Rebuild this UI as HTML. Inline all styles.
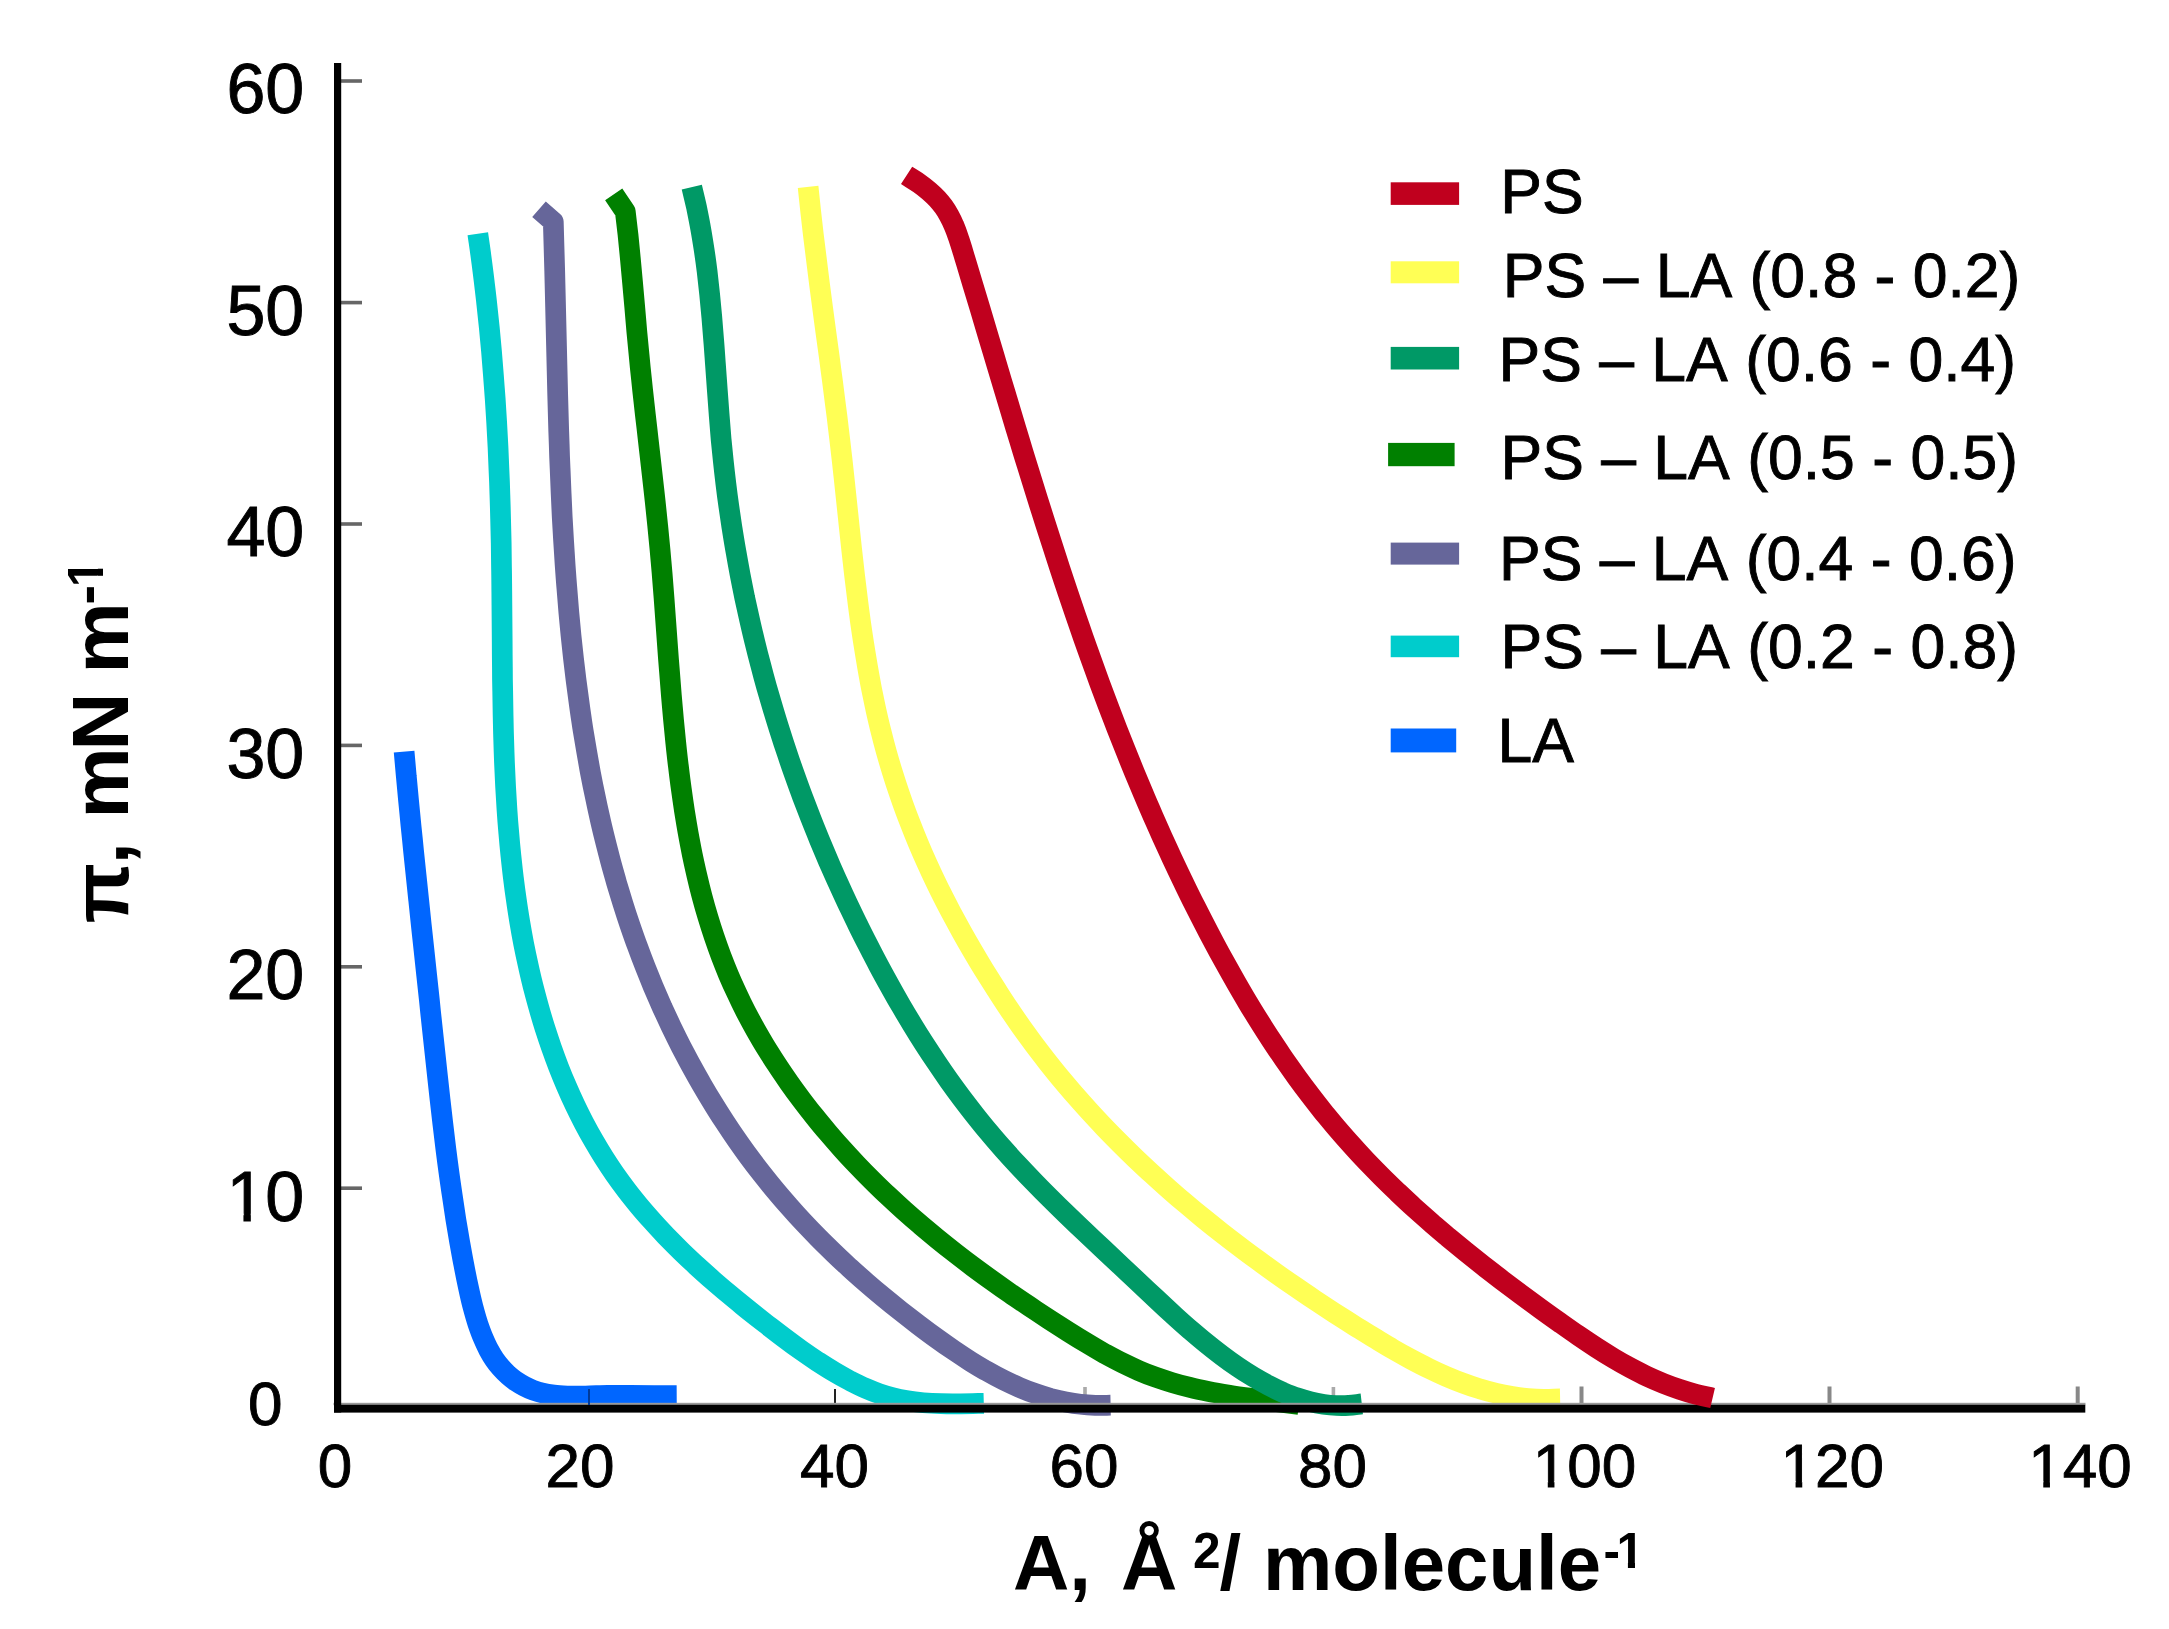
<!DOCTYPE html>
<html lang="en"><head><meta charset="utf-8"><title>Surface pressure - area isotherms</title>
<style>html,body{margin:0;padding:0;background:#fff}body{width:2169px;height:1629px;overflow:hidden}svg{display:block}text{font-family:"Liberation Sans",sans-serif;fill:#000;font-kerning:none}</style>
</head><body>
<svg width="2169" height="1629" viewBox="0 0 2169 1629">
<rect width="2169" height="1629" fill="#fff"/>
<g id="ticks">
<rect x="340" y="79.2" width="22" height="3.6" fill="#666"/>
<rect x="340" y="300.8" width="22" height="3.6" fill="#666"/>
<rect x="340" y="522.2" width="22" height="3.6" fill="#666"/>
<rect x="340" y="743.6" width="22" height="3.6" fill="#666"/>
<rect x="340" y="965.0" width="22" height="3.6" fill="#666"/>
<rect x="340" y="1186.4" width="22" height="3.6" fill="#666"/>
<rect x="588" y="1389" width="2" height="16" fill="#222"/>
<rect x="834" y="1389" width="2" height="16" fill="#222"/>
<rect x="1083.2" y="1387" width="3.6" height="18" fill="#aaa"/>
<rect x="1331.6" y="1387" width="3.6" height="18" fill="#aaa"/>
<rect x="1579.5" y="1386.5" width="4" height="18" fill="#888"/>
<rect x="1827.5" y="1386.5" width="4" height="18" fill="#888"/>
<rect x="2075.7" y="1386.5" width="4" height="18" fill="#888"/>
</g>
<g id="curves" fill="none" stroke-width="20.7" stroke-linecap="butt" stroke-linejoin="round">
<path stroke="#0066FF" d="M404.1,751.6 C404.8,759.8 405.6,768.0 406.3,776.3 C407.1,784.5 407.9,792.7 408.6,801.0 C409.4,809.2 410.2,817.5 411.0,825.7 C411.9,834.0 412.7,842.2 413.5,850.5 C414.4,858.8 415.2,867.1 416.1,875.3 C416.9,883.6 417.8,891.9 418.7,900.2 C419.5,908.6 420.4,916.9 421.3,925.2 C422.2,933.5 423.1,941.9 424.0,950.2 C424.9,958.5 425.8,966.9 426.7,975.3 C427.6,983.6 428.5,992.0 429.4,1000.3 C430.2,1008.7 431.1,1017.0 432.0,1025.4 C432.9,1033.7 433.8,1042.1 434.7,1050.4 C435.6,1058.7 436.5,1067.0 437.4,1075.3 C438.3,1083.5 439.2,1091.7 440.1,1099.9 C441.0,1108.0 441.9,1116.1 442.9,1124.3 C443.8,1132.3 444.8,1140.3 445.8,1148.4 C446.8,1156.3 447.8,1164.3 448.9,1172.2 C450.0,1180.1 451.1,1188.0 452.3,1195.8 C453.4,1203.6 454.6,1211.4 455.8,1219.2 C457.1,1226.9 458.4,1234.5 459.7,1242.2 C461.1,1249.8 462.4,1257.5 463.9,1265.0 C465.3,1272.5 466.8,1279.9 468.4,1287.3 C469.8,1293.8 471.2,1300.3 472.9,1306.7 C474.4,1312.3 475.9,1317.8 477.7,1323.3 C479.4,1328.2 481.1,1333.1 483.1,1337.8 C484.9,1342.0 486.7,1346.1 488.8,1350.0 C490.6,1353.3 492.4,1356.5 494.5,1359.5 C496.5,1362.4 498.6,1365.1 500.9,1367.7 C503.2,1370.3 505.6,1372.7 508.1,1375.0 C510.6,1377.2 513.2,1379.3 515.9,1381.2 C518.6,1383.0 521.4,1384.7 524.2,1386.2 C527.0,1387.7 529.9,1389.0 532.9,1390.1 C536.0,1391.2 539.2,1392.2 542.5,1393.0 C546.2,1393.9 550.0,1394.5 553.8,1395.0 C558.3,1395.6 562.9,1395.8 567.4,1396.0 C573.4,1396.3 579.3,1396.0 585.2,1396.0 C592.6,1395.9 600.1,1395.5 607.5,1395.4 C615.0,1395.3 622.5,1395.3 630.0,1395.4 C638.2,1395.4 646.3,1395.6 654.4,1395.6 C661.8,1395.6 669.3,1395.5 676.7,1395.5"/>
<path stroke="#00CCCC" d="M477.8,233.8 C478.9,241.6 480.1,249.4 481.1,257.2 C482.2,265.0 483.1,272.8 484.1,280.7 C485.0,288.5 486.0,296.3 486.8,304.1 C487.7,312.0 488.5,319.9 489.3,327.7 C490.0,335.6 490.8,343.5 491.5,351.4 C492.2,359.3 492.8,367.2 493.4,375.1 C494.0,383.0 494.6,391.0 495.2,398.9 C495.7,406.9 496.2,414.8 496.7,422.8 C497.1,430.8 497.6,438.8 498.0,446.7 C498.4,454.8 498.7,462.8 499.0,470.8 C499.4,478.8 499.7,486.8 499.9,494.8 C500.2,502.9 500.4,510.9 500.6,519.0 C500.8,527.1 501.0,535.1 501.2,543.2 C501.3,551.3 501.4,559.4 501.5,567.6 C501.7,575.7 501.7,583.9 501.8,592.1 C501.9,600.4 501.9,608.7 502.0,617.0 C502.1,625.3 502.1,633.7 502.2,642.0 C502.2,650.3 502.3,658.5 502.4,666.8 C502.4,675.0 502.5,683.1 502.7,691.3 C502.8,699.4 502.9,707.5 503.1,715.5 C503.3,723.5 503.4,731.5 503.7,739.5 C503.9,747.4 504.2,755.4 504.5,763.3 C504.8,771.1 505.2,778.9 505.6,786.8 C506.0,794.5 506.5,802.2 507.0,810.0 C507.5,817.7 508.1,825.3 508.8,833.0 C509.4,840.5 510.1,848.1 510.9,855.7 C511.7,863.2 512.5,870.7 513.4,878.1 C514.3,885.6 515.3,893.0 516.4,900.3 C517.4,907.7 518.6,915.0 519.8,922.3 C521.0,929.5 522.3,936.7 523.7,943.9 C525.1,951.0 526.6,958.1 528.2,965.2 C529.7,972.3 531.4,979.3 533.1,986.3 C534.9,993.2 536.7,1000.2 538.7,1007.1 C540.6,1013.9 542.6,1020.7 544.7,1027.4 C546.9,1034.2 549.1,1040.8 551.4,1047.5 C553.7,1054.0 556.1,1060.6 558.6,1067.1 C561.1,1073.5 563.7,1079.9 566.5,1086.2 C569.2,1092.5 572.0,1098.7 574.9,1104.9 C577.8,1111.0 580.8,1117.0 583.9,1123.0 C587.0,1128.9 590.2,1134.8 593.6,1140.6 C596.9,1146.3 600.3,1152.0 603.8,1157.6 C607.3,1163.1 610.9,1168.6 614.7,1174.0 C618.4,1179.3 622.3,1184.6 626.2,1189.8 C630.2,1195.1 634.4,1200.3 638.6,1205.4 C642.9,1210.6 647.4,1215.7 651.9,1220.7 C656.5,1225.9 661.2,1230.9 665.9,1235.9 C670.8,1240.9 675.8,1245.9 680.8,1250.8 C685.9,1255.8 691.2,1260.7 696.4,1265.6 C701.8,1270.5 707.2,1275.4 712.7,1280.2 C718.3,1285.1 724.0,1289.9 729.7,1294.7 C735.5,1299.6 741.4,1304.3 747.3,1309.1 C753.4,1313.9 759.4,1318.7 765.5,1323.5 C771.6,1328.2 777.7,1333.0 783.9,1337.6 C789.6,1341.9 795.4,1346.2 801.3,1350.4 C806.8,1354.3 812.4,1358.1 818.0,1361.8 C823.4,1365.3 828.8,1368.8 834.4,1372.0 C839.6,1375.1 845.0,1378.1 850.4,1381.0 C855.4,1383.5 860.5,1386.0 865.6,1388.3 C870.2,1390.3 874.8,1392.2 879.5,1393.8 C884.0,1395.3 888.4,1396.6 893.0,1397.8 C897.8,1399.0 902.6,1399.9 907.5,1400.7 C912.7,1401.6 918.0,1402.2 923.4,1402.7 C929.2,1403.2 935.1,1403.5 941.0,1403.7 C947.6,1403.9 954.3,1403.9 960.9,1403.8 C968.5,1403.8 976.2,1403.5 983.8,1403.3"/>
<path stroke="#66669A" d="M539.0,209.3 L553.3,221.7 C553.5,229.9 553.8,238.1 554.0,246.2 C554.3,254.5 554.5,262.7 554.7,270.9 C554.9,279.1 555.1,287.4 555.3,295.6 C555.5,303.9 555.7,312.2 555.9,320.5 C556.1,328.9 556.3,337.2 556.5,345.5 C556.7,353.8 556.9,362.0 557.1,370.3 C557.3,378.6 557.5,386.8 557.7,395.0 C557.9,403.2 558.1,411.4 558.4,419.6 C558.6,427.8 558.9,435.9 559.2,444.1 C559.4,452.2 559.7,460.3 560.1,468.4 C560.4,476.5 560.7,484.6 561.1,492.7 C561.4,500.7 561.8,508.7 562.2,516.8 C562.7,524.8 563.1,532.8 563.6,540.8 C564.1,548.7 564.6,556.7 565.1,564.6 C565.7,572.5 566.2,580.4 566.9,588.4 C567.5,596.2 568.1,604.1 568.8,612.0 C569.5,619.8 570.3,627.6 571.0,635.4 C571.8,643.2 572.6,651.0 573.5,658.7 C574.4,666.5 575.3,674.2 576.3,681.9 C577.3,689.6 578.3,697.3 579.4,705.0 C580.4,712.6 581.6,720.2 582.7,727.8 C583.9,735.4 585.2,743.0 586.5,750.5 C587.8,758.1 589.1,765.6 590.5,773.1 C591.9,780.5 593.4,788.0 595.0,795.4 C596.5,802.8 598.1,810.2 599.8,817.6 C601.4,825.0 603.2,832.3 605.0,839.6 C606.8,846.9 608.7,854.1 610.6,861.4 C612.5,868.6 614.6,875.7 616.6,882.9 C618.7,890.0 620.9,897.2 623.1,904.2 C625.3,911.3 627.6,918.3 630.0,925.3 C632.4,932.3 634.8,939.3 637.4,946.2 C639.9,953.1 642.5,960.0 645.2,966.8 C647.9,973.6 650.6,980.4 653.4,987.2 C656.3,993.9 659.2,1000.6 662.2,1007.3 C665.2,1013.9 668.3,1020.5 671.4,1027.1 C674.6,1033.7 677.8,1040.2 681.1,1046.7 C684.5,1053.1 687.8,1059.6 691.3,1065.9 C694.8,1072.3 698.3,1078.6 702.0,1084.9 C705.6,1091.1 709.3,1097.3 713.1,1103.5 C716.8,1109.6 720.7,1115.7 724.6,1121.7 C728.5,1127.7 732.5,1133.7 736.6,1139.5 C740.7,1145.4 744.8,1151.2 749.1,1157.0 C753.3,1162.7 757.6,1168.3 762.0,1173.9 C766.4,1179.5 770.8,1185.0 775.3,1190.4 C779.9,1195.9 784.5,1201.3 789.3,1206.6 C794.0,1212.0 798.8,1217.3 803.7,1222.5 C808.6,1227.7 813.6,1232.9 818.6,1238.0 C823.7,1243.2 828.9,1248.2 834.1,1253.2 C839.3,1258.3 844.7,1263.2 850.0,1268.1 C855.4,1273.1 860.9,1277.9 866.4,1282.7 C872.0,1287.6 877.6,1292.3 883.3,1297.0 C889.0,1301.7 894.8,1306.4 900.6,1311.0 C906.5,1315.6 912.4,1320.2 918.3,1324.7 C924.2,1329.2 930.2,1333.7 936.2,1338.0 C942.0,1342.2 947.8,1346.3 953.7,1350.3 C959.3,1354.1 964.9,1357.8 970.6,1361.4 C976.1,1364.8 981.6,1368.2 987.2,1371.3 C992.6,1374.4 998.0,1377.3 1003.5,1380.0 C1008.8,1382.6 1014.1,1385.1 1019.5,1387.4 C1024.7,1389.6 1030.0,1391.7 1035.3,1393.6 C1040.4,1395.4 1045.5,1397.0 1050.7,1398.5 C1055.7,1399.8 1060.8,1401.0 1065.8,1402.0 C1070.8,1403.0 1075.7,1403.8 1080.7,1404.3 C1085.6,1404.9 1090.4,1405.2 1095.3,1405.4 C1100.4,1405.5 1105.5,1405.3 1110.6,1405.2"/>
<path stroke="#008000" d="M613.7,194.4 L625.3,211.6 C626.2,219.3 627.1,226.9 628.0,234.6 C628.8,242.4 629.6,250.2 630.3,258.0 C631.1,266.0 631.8,274.0 632.5,282.0 C633.3,290.3 634.0,298.5 634.7,306.7 C635.4,314.9 636.1,323.1 636.8,331.3 C637.5,339.3 638.3,347.3 639.1,355.3 C639.8,363.2 640.6,371.2 641.5,379.2 C642.3,387.3 643.2,395.3 644.1,403.4 C645.0,411.6 645.9,419.7 646.9,427.9 C647.8,436.2 648.8,444.4 649.7,452.7 C650.7,460.9 651.6,469.1 652.5,477.3 C653.4,485.4 654.3,493.5 655.2,501.6 C656.1,509.7 656.9,517.7 657.7,525.7 C658.5,533.6 659.3,541.5 660.0,549.4 C660.7,557.4 661.4,565.3 662.1,573.3 C662.7,581.4 663.4,589.5 664.0,597.5 C664.6,605.8 665.2,614.0 665.8,622.2 C666.4,630.5 667.0,638.8 667.6,647.1 C668.2,655.3 668.8,663.4 669.5,671.6 C670.1,679.7 670.7,687.8 671.4,695.8 C672.1,703.8 672.8,711.7 673.5,719.7 C674.2,727.5 675.0,735.3 675.8,743.1 C676.6,750.9 677.4,758.6 678.4,766.2 C679.3,773.8 680.2,781.4 681.3,789.0 C682.3,796.4 683.4,803.9 684.5,811.3 C685.7,818.7 686.9,826.0 688.2,833.3 C689.5,840.5 690.9,847.7 692.3,854.8 C693.8,861.9 695.3,869.0 697.0,876.0 C698.6,882.9 700.3,889.8 702.1,896.7 C703.9,903.5 705.8,910.2 707.9,917.0 C709.9,923.6 712.0,930.2 714.2,936.8 C716.4,943.3 718.7,949.7 721.1,956.1 C723.5,962.4 726.0,968.7 728.6,975.0 C731.2,981.2 734.0,987.3 736.9,993.4 C739.7,999.6 742.7,1005.7 745.8,1011.7 C749.0,1017.8 752.2,1023.8 755.6,1029.8 C759.0,1035.8 762.4,1041.7 766.0,1047.6 C769.7,1053.5 773.4,1059.4 777.2,1065.2 C781.0,1071.1 785.0,1076.8 789.0,1082.6 C793.0,1088.3 797.2,1094.0 801.4,1099.6 C805.7,1105.3 810.0,1110.9 814.5,1116.4 C818.9,1122.0 823.5,1127.5 828.1,1132.9 C832.7,1138.3 837.4,1143.7 842.2,1149.0 C847.0,1154.4 851.9,1159.6 856.9,1164.8 C861.9,1170.1 866.9,1175.2 872.1,1180.3 C877.2,1185.4 882.4,1190.5 887.7,1195.4 C893.0,1200.4 898.4,1205.4 903.8,1210.2 C909.3,1215.1 914.9,1220.0 920.4,1224.7 C926.1,1229.5 931.8,1234.3 937.5,1239.0 C943.3,1243.7 949.1,1248.3 955.0,1252.9 C960.9,1257.5 966.9,1262.1 972.9,1266.6 C979.0,1271.1 985.1,1275.6 991.3,1280.0 C997.5,1284.5 1003.7,1288.9 1010.0,1293.2 C1016.3,1297.6 1022.7,1301.9 1029.1,1306.2 C1035.6,1310.5 1042.0,1314.8 1048.6,1319.1 C1055.1,1323.3 1061.7,1327.5 1068.3,1331.7 C1074.6,1335.7 1080.9,1339.6 1087.3,1343.4 C1093.2,1347.0 1099.2,1350.5 1105.2,1353.9 C1110.9,1357.0 1116.6,1360.1 1122.4,1362.9 C1127.9,1365.6 1133.4,1368.2 1139.0,1370.7 C1144.3,1373.0 1149.7,1375.1 1155.2,1377.1 C1160.8,1379.1 1166.4,1380.9 1172.1,1382.6 C1178.0,1384.4 1184.0,1386.0 1190.0,1387.4 C1196.4,1389.0 1202.7,1390.3 1209.1,1391.6 C1215.8,1392.9 1222.6,1394.0 1229.4,1395.1 C1236.7,1396.3 1244.0,1397.3 1251.3,1398.3 C1259.3,1399.4 1267.2,1400.4 1275.2,1401.4 C1283.1,1402.4 1291.0,1403.5 1299.0,1404.5"/>
<path stroke="#009966" d="M691.8,187.2 C693.4,194.0 695.1,200.8 696.6,207.6 C698.0,214.5 699.4,221.3 700.6,228.2 C701.9,235.3 703.0,242.4 704.1,249.5 C705.2,256.7 706.2,264.0 707.1,271.3 C708.0,278.8 708.8,286.3 709.6,293.8 C710.4,301.5 711.1,309.2 711.8,316.9 C712.5,324.8 713.1,332.7 713.7,340.6 C714.4,348.8 714.9,356.9 715.5,365.1 C716.1,373.4 716.7,381.7 717.3,390.0 C717.9,398.1 718.5,406.2 719.1,414.3 C719.7,422.2 720.3,430.1 721.0,438.0 C721.7,445.7 722.5,453.4 723.3,461.0 C724.1,468.7 725.0,476.3 725.9,484.0 C726.8,491.6 727.8,499.2 728.9,506.8 C730.0,514.5 731.1,522.1 732.3,529.7 C733.5,537.2 734.7,544.8 736.1,552.4 C737.4,560.0 738.8,567.5 740.2,575.1 C741.7,582.6 743.2,590.2 744.7,597.7 C746.3,605.2 748.0,612.7 749.7,620.2 C751.4,627.7 753.1,635.2 755.0,642.7 C756.8,650.2 758.7,657.6 760.7,665.0 C762.6,672.5 764.6,679.9 766.7,687.3 C768.8,694.7 771.0,702.1 773.2,709.5 C775.4,716.8 777.6,724.2 780.0,731.5 C782.3,738.9 784.7,746.2 787.2,753.5 C789.6,760.8 792.1,768.0 794.7,775.3 C797.3,782.6 799.9,789.8 802.6,797.0 C805.3,804.2 808.1,811.4 810.9,818.6 C813.7,825.8 816.6,832.9 819.5,840.0 C822.5,847.2 825.5,854.3 828.5,861.4 C831.6,868.4 834.7,875.5 837.9,882.5 C841.1,889.6 844.3,896.6 847.6,903.6 C850.9,910.5 854.2,917.5 857.6,924.4 C861.0,931.4 864.5,938.3 868.0,945.1 C871.5,952.0 875.0,958.8 878.6,965.5 C882.2,972.3 885.9,979.0 889.6,985.6 C893.3,992.3 897.0,998.9 900.8,1005.4 C904.6,1011.9 908.5,1018.4 912.4,1024.8 C916.3,1031.2 920.3,1037.6 924.3,1043.9 C928.3,1050.1 932.4,1056.3 936.6,1062.5 C940.7,1068.6 944.9,1074.7 949.1,1080.7 C953.4,1086.7 957.7,1092.6 962.1,1098.5 C966.5,1104.3 970.9,1110.1 975.4,1115.7 C979.9,1121.4 984.4,1127.0 989.1,1132.5 C993.7,1138.1 998.5,1143.6 1003.3,1149.0 C1008.2,1154.5 1013.2,1160.0 1018.2,1165.4 C1023.3,1170.9 1028.5,1176.3 1033.8,1181.7 C1039.1,1187.2 1044.5,1192.7 1050.0,1198.1 C1055.5,1203.6 1061.1,1209.1 1066.7,1214.5 C1072.5,1220.1 1078.2,1225.6 1084.0,1231.1 C1090.0,1236.7 1095.9,1242.3 1101.9,1247.9 C1107.9,1253.6 1114.0,1259.3 1120.1,1265.0 C1126.1,1270.7 1132.2,1276.3 1138.2,1282.0 C1144.2,1287.6 1150.2,1293.3 1156.2,1298.9 C1161.9,1304.3 1167.6,1309.6 1173.4,1314.9 C1178.8,1319.8 1184.3,1324.8 1189.9,1329.6 C1195.3,1334.2 1200.6,1338.8 1206.1,1343.2 C1211.3,1347.5 1216.6,1351.6 1222.0,1355.6 C1227.1,1359.5 1232.3,1363.2 1237.7,1366.8 C1242.8,1370.3 1248.0,1373.6 1253.2,1376.8 C1258.3,1379.8 1263.4,1382.7 1268.6,1385.4 C1273.4,1387.9 1278.3,1390.3 1283.2,1392.5 C1287.8,1394.4 1292.5,1396.3 1297.2,1397.9 C1301.7,1399.4 1306.1,1400.7 1310.7,1401.8 C1315.0,1402.9 1319.3,1403.7 1323.7,1404.4 C1327.8,1405.0 1332.0,1405.4 1336.3,1405.5 C1340.4,1405.7 1344.5,1405.7 1348.6,1405.4 C1353.0,1405.2 1357.4,1404.4 1361.8,1403.9"/>
<path stroke="#FFFF55" d="M808.1,186.8 C808.9,194.7 809.7,202.6 810.6,210.6 C811.5,218.5 812.4,226.5 813.3,234.4 C814.3,242.4 815.3,250.4 816.3,258.4 C817.3,266.5 818.3,274.5 819.3,282.6 C820.4,290.7 821.5,298.8 822.5,307.0 C823.6,315.2 824.7,323.4 825.8,331.6 C826.9,339.8 828.1,348.0 829.2,356.3 C830.2,364.4 831.3,372.6 832.4,380.7 C833.5,388.8 834.5,396.9 835.5,405.0 C836.6,413.0 837.6,421.1 838.5,429.1 C839.5,437.1 840.4,445.0 841.3,453.0 C842.3,461.0 843.1,469.1 844.0,477.1 C844.9,485.3 845.7,493.4 846.6,501.6 C847.5,509.8 848.3,518.1 849.2,526.3 C850.1,534.5 850.9,542.6 851.8,550.7 C852.7,558.7 853.6,566.7 854.5,574.7 C855.4,582.5 856.4,590.4 857.4,598.3 C858.3,606.0 859.4,613.7 860.4,621.4 C861.5,629.1 862.6,636.7 863.8,644.2 C865.0,651.7 866.2,659.2 867.5,666.6 C868.8,674.0 870.1,681.3 871.5,688.6 C873.0,695.8 874.4,703.0 876.0,710.2 C877.6,717.3 879.2,724.3 881.0,731.4 C882.7,738.3 884.5,745.2 886.4,752.1 C888.3,758.9 890.4,765.8 892.5,772.6 C894.6,779.4 896.8,786.2 899.1,792.9 C901.4,799.7 903.8,806.5 906.3,813.2 C908.8,819.9 911.5,826.6 914.2,833.3 C916.9,840.0 919.7,846.7 922.5,853.3 C925.4,859.9 928.4,866.5 931.5,873.1 C934.6,879.7 937.7,886.3 941.0,892.8 C944.2,899.3 947.6,905.8 951.0,912.3 C954.5,918.8 958.0,925.3 961.6,931.8 C965.2,938.3 968.9,944.7 972.7,951.1 C976.5,957.6 980.3,964.0 984.2,970.4 C988.2,976.8 992.2,983.2 996.3,989.6 C1000.3,995.8 1004.3,1002.1 1008.5,1008.3 C1012.6,1014.3 1016.7,1020.4 1020.9,1026.4 C1025.1,1032.3 1029.4,1038.1 1033.7,1044.0 C1038.1,1049.8 1042.5,1055.6 1047.0,1061.3 C1051.5,1067.0 1056.0,1072.7 1060.7,1078.3 C1065.4,1083.9 1070.1,1089.5 1074.9,1095.0 C1079.7,1100.5 1084.6,1106.0 1089.5,1111.4 C1094.5,1116.9 1099.5,1122.2 1104.6,1127.6 C1109.7,1132.9 1114.9,1138.2 1120.1,1143.4 C1125.3,1148.6 1130.6,1153.8 1136.0,1159.0 C1141.4,1164.1 1146.8,1169.2 1152.3,1174.2 C1157.8,1179.3 1163.4,1184.3 1169.0,1189.2 C1174.6,1194.2 1180.3,1199.1 1186.1,1203.9 C1191.8,1208.8 1197.6,1213.6 1203.5,1218.4 C1209.4,1223.2 1215.3,1227.9 1221.3,1232.6 C1227.3,1237.3 1233.3,1241.9 1239.4,1246.5 C1245.4,1251.2 1251.6,1255.7 1257.8,1260.2 C1264.0,1264.8 1270.2,1269.3 1276.5,1273.7 C1282.8,1278.2 1289.1,1282.6 1295.5,1286.9 C1301.8,1291.3 1308.3,1295.7 1314.7,1300.0 C1321.2,1304.3 1327.7,1308.6 1334.2,1312.8 C1340.8,1317.0 1347.4,1321.2 1354.0,1325.4 C1360.6,1329.5 1367.2,1333.7 1373.8,1337.7 C1380.1,1341.5 1386.4,1345.4 1392.8,1349.1 C1398.9,1352.6 1405.0,1356.0 1411.2,1359.4 C1417.1,1362.5 1423.0,1365.6 1429.0,1368.5 C1434.7,1371.3 1440.5,1374.0 1446.3,1376.5 C1451.9,1378.9 1457.6,1381.2 1463.3,1383.3 C1468.8,1385.4 1474.3,1387.3 1479.9,1388.9 C1485.3,1390.6 1490.7,1392.0 1496.2,1393.3 C1501.5,1394.6 1506.8,1395.6 1512.2,1396.5 C1517.5,1397.3 1522.8,1398.0 1528.1,1398.5 C1533.3,1398.9 1538.5,1399.2 1543.7,1399.3 C1549.2,1399.4 1554.6,1399.0 1560.1,1398.9"/>
</g>
<g id="axes">
<rect x="333.5" y="1402.8" width="1752" height="2.4" fill="#999"/>
<rect x="334" y="63" width="7.2" height="1349.5" fill="#000"/>
<rect x="334" y="1404.8" width="1751.3" height="7.8" fill="#000"/>
</g>
<path id="curve-ps" fill="none" stroke="#C0001E" stroke-width="20.7" stroke-linecap="butt" stroke-linejoin="round" d="M906.6,175.4 C910.8,178.1 915.2,180.6 919.4,183.6 C922.8,186.0 926.1,188.6 929.3,191.3 C932.1,193.7 934.8,196.3 937.3,199.0 C939.5,201.4 941.6,204.0 943.6,206.7 C945.6,209.5 947.4,212.4 949.0,215.4 C950.9,218.8 952.6,222.4 954.1,226.0 C956.1,230.5 957.6,235.2 959.2,239.9 C961.6,247.0 963.6,254.2 965.8,261.3 C968.2,269.2 970.6,277.1 972.9,285.0 C975.3,292.9 977.7,300.8 980.1,308.8 C982.5,316.8 984.8,324.7 987.2,332.7 C989.6,340.7 992.0,348.7 994.4,356.7 C996.7,364.7 999.1,372.7 1001.5,380.6 C1003.9,388.6 1006.3,396.5 1008.7,404.5 C1011.0,412.4 1013.4,420.3 1015.8,428.3 C1018.2,436.2 1020.6,444.0 1023.0,451.9 C1025.4,459.8 1027.9,467.7 1030.3,475.5 C1032.7,483.4 1035.2,491.2 1037.6,499.0 C1040.1,506.8 1042.5,514.6 1045.0,522.4 C1047.5,530.2 1050.0,538.0 1052.5,545.7 C1055.0,553.5 1057.5,561.2 1060.0,568.9 C1062.6,576.6 1065.1,584.3 1067.7,592.0 C1070.3,599.7 1072.9,607.4 1075.5,615.0 C1078.1,622.6 1080.8,630.3 1083.4,637.9 C1086.1,645.5 1088.8,653.0 1091.5,660.6 C1094.2,668.2 1097.0,675.7 1099.7,683.2 C1102.5,690.7 1105.3,698.2 1108.1,705.7 C1111.0,713.2 1113.8,720.6 1116.7,728.1 C1119.6,735.5 1122.5,742.9 1125.5,750.3 C1128.4,757.6 1131.4,765.0 1134.4,772.3 C1137.4,779.6 1140.5,786.9 1143.6,794.2 C1146.6,801.5 1149.8,808.7 1152.9,816.0 C1156.1,823.2 1159.3,830.4 1162.5,837.6 C1165.8,844.7 1169.0,851.9 1172.3,859.0 C1175.6,866.1 1179.0,873.2 1182.4,880.2 C1185.8,887.2 1189.2,894.3 1192.7,901.3 C1196.2,908.2 1199.7,915.2 1203.3,922.1 C1206.8,929.0 1210.4,935.9 1214.1,942.8 C1217.7,949.6 1221.4,956.4 1225.1,963.1 C1228.8,969.8 1232.6,976.5 1236.4,983.1 C1240.2,989.7 1244.0,996.3 1247.9,1002.8 C1251.8,1009.3 1255.7,1015.7 1259.8,1022.1 C1263.7,1028.4 1267.8,1034.7 1271.9,1041.0 C1275.9,1047.2 1280.1,1053.3 1284.3,1059.5 C1288.5,1065.5 1292.7,1071.5 1297.0,1077.5 C1301.3,1083.4 1305.7,1089.3 1310.1,1095.1 C1314.5,1100.9 1319.0,1106.6 1323.5,1112.2 C1328.1,1117.8 1332.6,1123.4 1337.3,1128.8 C1342.0,1134.3 1346.7,1139.7 1351.6,1145.0 C1356.4,1150.4 1361.3,1155.7 1366.3,1161.0 C1371.4,1166.3 1376.5,1171.5 1381.7,1176.7 C1386.9,1181.9 1392.2,1187.0 1397.5,1192.1 C1402.9,1197.2 1408.3,1202.3 1413.8,1207.3 C1419.4,1212.3 1425.0,1217.3 1430.6,1222.2 C1436.3,1227.2 1442.1,1232.1 1447.8,1237.0 C1453.7,1241.9 1459.6,1246.8 1465.5,1251.6 C1471.5,1256.4 1477.5,1261.2 1483.5,1265.9 C1489.7,1270.7 1495.8,1275.5 1502.0,1280.2 C1508.2,1284.9 1514.5,1289.6 1520.7,1294.3 C1527.1,1299.0 1533.5,1303.7 1539.9,1308.3 C1546.3,1313.0 1552.8,1317.6 1559.3,1322.2 C1565.5,1326.6 1571.8,1331.1 1578.1,1335.4 C1584.1,1339.5 1590.1,1343.5 1596.2,1347.5 C1601.9,1351.2 1607.7,1354.8 1613.6,1358.3 C1619.1,1361.6 1624.8,1364.8 1630.5,1367.9 C1636.0,1370.8 1641.5,1373.7 1647.1,1376.3 C1652.5,1378.8 1658.0,1381.2 1663.5,1383.5 C1668.8,1385.6 1674.2,1387.6 1679.7,1389.4 C1685.0,1391.2 1690.4,1392.8 1695.8,1394.2 C1701.4,1395.7 1707.0,1396.7 1712.6,1398.0"/>
<rect x="588" y="1389" width="2" height="16" fill="#003a99"/>
<g id="ylabels" font-size="70" stroke="#000" stroke-width="0.9">
<text x="226.44" y="113.3">60</text>
<text x="226.44" y="334.9">50</text>
<text x="226.44" y="556.3">40</text>
<text x="226.44" y="777.7">30</text>
<text x="226.44" y="999.1">20</text>
<text x="226.44" y="1220.5">10</text>
<rect x="230.12" y="1213.62" width="13.32" height="8.53" fill="#fff" stroke="none"/><rect x="250.83" y="1213.62" width="12.77" height="8.53" fill="#fff" stroke="none"/>
</g>
<text x="265.2" y="1425" font-size="62" text-anchor="middle" stroke="#000" stroke-width="0.9">0</text>
<g id="xlabels" font-size="62" stroke="#000" stroke-width="0.9">
<text x="317.66" y="1487.3">0</text>
<text x="545.52" y="1487.3">20</text>
<text x="799.92" y="1487.3">40</text>
<text x="1049.52" y="1487.3">60</text>
<text x="1298.02" y="1487.3">80</text>
<text x="1532.78" y="1487.3">100</text>
<rect x="1535.85" y="1481.02" width="11.92" height="7.93" fill="#fff" stroke="none"/><rect x="1554.45" y="1481.02" width="11.43" height="7.93" fill="#fff" stroke="none"/>
<text x="1780.58" y="1487.3">120</text>
<rect x="1783.65" y="1481.02" width="11.92" height="7.93" fill="#fff" stroke="none"/><rect x="1802.25" y="1481.02" width="11.43" height="7.93" fill="#fff" stroke="none"/>
<text x="2028.28" y="1487.3">140</text>
<rect x="2031.35" y="1481.02" width="11.92" height="7.93" fill="#fff" stroke="none"/><rect x="2049.95" y="1481.02" width="11.43" height="7.93" fill="#fff" stroke="none"/>
</g>
<g id="xtitle" font-weight="bold" font-size="78">
<text y="1590"><tspan x="1013">A, </tspan><tspan x="1121">Å </tspan><tspan x="1193" y="1567.5" font-size="49.5">2</tspan><tspan x="1219.5" y="1590">/ </tspan><tspan x="1263">molecule</tspan><tspan x="1603.5" y="1567.5" font-size="49.5">-</tspan><tspan x="1616.5" y="1567.5" font-size="49.5">1</tspan></text>
<rect x="1618.42" y="1561.25" width="9.49" height="7.45" fill="#fff" stroke="none"/><rect x="1634.99" y="1561.25" width="8.86" height="7.45" fill="#fff" stroke="none"/>
</g>
<g id="ytitle" font-weight="bold" font-size="80" transform="translate(127.7,923.2) rotate(-90)">
<text y="0"><tspan x="0" textLength="60.5" lengthAdjust="spacingAndGlyphs">π</tspan><tspan x="59">, </tspan><tspan x="104.6 172.6">mN</tspan><tspan x="225"> </tspan><tspan x="249.6">m</tspan><tspan x="318.5" y="-21.3" font-size="60">-</tspan><tspan x="336" y="-24.5" font-size="49.5">1</tspan></text>
<rect x="337.92" y="-30.75" width="9.49" height="7.45" fill="#fff" stroke="none"/><rect x="354.49" y="-30.75" width="8.86" height="7.45" fill="#fff" stroke="none"/>
</g>
<g id="legend" font-size="62.5" stroke="#000" stroke-width="0.9">
<rect x="1390.7" y="182.3" width="68.4" height="22.6" fill="#C0001E" stroke="none"/>
<text x="1500.3" y="213.2">PS</text>
<rect x="1390.7" y="261.3" width="68.4" height="22.0" fill="#FFFF55" stroke="none"/>
<text x="1502.8" y="296.7">PS – LA (0.8 - 0.2)</text>
<rect x="1390.7" y="346.9" width="68.4" height="22.6" fill="#009966" stroke="none"/>
<text x="1498.5" y="381.0">PS – LA (0.6 - 0.4)</text>
<rect x="1388.1" y="442.9" width="66.5" height="23.3" fill="#008000" stroke="none"/>
<text x="1500.5" y="479.1">PS – LA (0.5 - 0.5)</text>
<rect x="1390.7" y="542.6" width="68.4" height="22.0" fill="#66669A" stroke="none"/>
<text x="1499.0" y="579.8">PS – LA (0.4 - 0.6)</text>
<rect x="1390.7" y="635.6" width="68.4" height="21.6" fill="#00CCCC" stroke="none"/>
<text x="1500.5" y="667.9">PS – LA (0.2 - 0.8)</text>
<rect x="1390.7" y="728.5" width="65.5" height="23.9" fill="#0066FF" stroke="none"/>
<text x="1497.5" y="761.5">LA</text>
</g>
</svg>
</body></html>
